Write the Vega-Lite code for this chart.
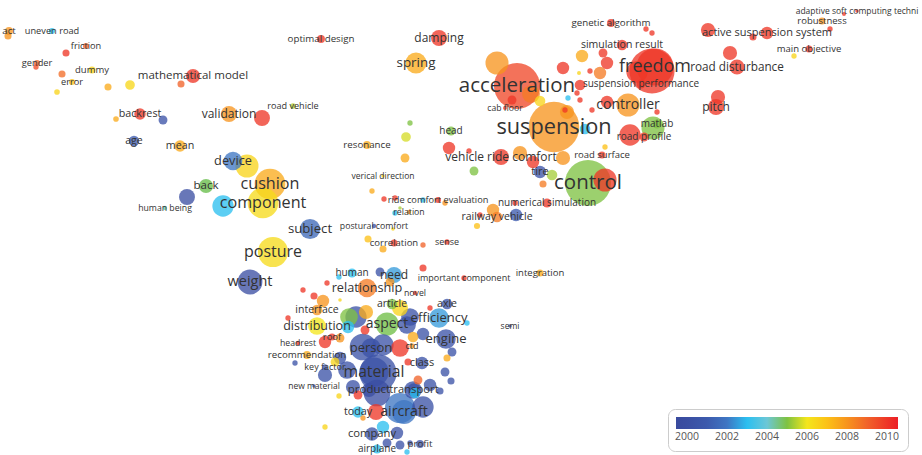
{
"$schema": "https://vega.github.io/schema/vega-lite/v6.json",
"width": 922, "height": 455, "autosize": {"type": "none"}, "padding": 0,
"background": "white",
"config": {"view": {"stroke": null}, "font": "Open Sans"},
"data": {"values": [
{"k":"act","x":9,"y":31,"w":20,"yr":2008},
{"k":"","x":8,"y":36,"w":16,"yr":2008},
{"k":"uneven road","x":52,"y":31,"w":12,"yr":2003},
{"k":"friction","x":86,"y":46,"w":12,"yr":2009},
{"k":"","x":66,"y":53,"w":16,"yr":2010},
{"k":"gender","x":37,"y":63,"w":12,"yr":2009},
{"k":"","x":36,"y":67,"w":9,"yr":2009.5},
{"k":"dummy","x":92,"y":70,"w":16,"yr":2006.5},
{"k":"","x":62,"y":74,"w":16,"yr":2008.8},
{"k":"error","x":72,"y":82,"w":12,"yr":2007},
{"k":"","x":57,"y":92,"w":10,"yr":2006.5},
{"k":"","x":108,"y":87,"w":16,"yr":2007.5},
{"k":"","x":130,"y":85,"w":30,"yr":2006.4},
{"k":"mathematical model","x":193,"y":76,"w":64,"yr":2010},
{"k":"","x":181,"y":84,"w":16,"yr":2009},
{"k":"backrest","x":140,"y":114,"w":42,"yr":2010},
{"k":"","x":116,"y":119,"w":10,"yr":2007.5},
{"k":"","x":163,"y":120,"w":25,"yr":2000.5},
{"k":"age","x":134,"y":141,"w":36,"yr":2001},
{"k":"mean","x":180,"y":146,"w":42,"yr":2007.5},
{"k":"validation","x":229,"y":114,"w":81,"yr":2008},
{"k":"","x":262,"y":118,"w":81,"yr":2010},
{"k":"road vehicle","x":293,"y":106,"w":10,"yr":2005.6},
{"k":"optimal design","x":321,"y":39,"w":20,"yr":2010},
{"k":"damping","x":439,"y":38,"w":81,"yr":2010},
{"k":"spring","x":416,"y":63,"w":140,"yr":2007.5},
{"k":"acceleration","x":517,"y":86,"w":676,"yr":2009.6},
{"k":"","x":497,"y":63,"w":169,"yr":2008},
{"k":"cab floor","x":505,"y":108,"w":5,"yr":2010},
{"k":"","x":512,"y":100,"w":25,"yr":2010},
{"k":"","x":540,"y":101,"w":36,"yr":2006.5},
{"k":"","x":531,"y":94,"w":100,"yr":2008.5},
{"k":"suspension","x":554,"y":127,"w":812,"yr":2008},
{"k":"","x":567,"y":112,"w":64,"yr":2008},
{"k":"","x":563,"y":158,"w":64,"yr":2008},
{"k":"","x":568,"y":98,"w":9,"yr":2003},
{"k":"","x":585,"y":129,"w":36,"yr":2003},
{"k":"","x":580,"y":100,"w":9,"yr":2010},
{"k":"","x":563,"y":68,"w":49,"yr":2010},
{"k":"","x":579,"y":73,"w":5,"yr":2006.5},
{"k":"","x":582,"y":56,"w":49,"yr":2007.5},
{"k":"","x":590,"y":71,"w":9,"yr":2010},
{"k":"","x":600,"y":73,"w":49,"yr":2008.5},
{"k":"","x":607,"y":63,"w":49,"yr":2010},
{"k":"","x":580,"y":85,"w":36,"yr":2010},
{"k":"","x":592,"y":110,"w":9,"yr":2010},
{"k":"","x":607,"y":102,"w":49,"yr":2010},
{"k":"","x":577,"y":93,"w":9,"yr":2010},
{"k":"","x":565,"y":110,"w":9,"yr":2010},
{"k":"simulation result","x":622,"y":45,"w":36,"yr":2010},
{"k":"","x":603,"y":53,"w":25,"yr":2010},
{"k":"genetic algorithm","x":611,"y":23,"w":20,"yr":2010},
{"k":"","x":646,"y":29,"w":9,"yr":2010},
{"k":"","x":652,"y":33,"w":9,"yr":2010},
{"k":"","x":652,"y":71,"w":650,"yr":2010},
{"k":"freedom","x":655,"y":67,"w":440,"yr":2010},
{"k":"","x":637,"y":72,"w":144,"yr":2010},
{"k":"suspension performance","x":641,"y":84,"w":25,"yr":2010},
{"k":"road disturbance","x":737,"y":67,"w":72,"yr":2010},
{"k":"","x":730,"y":53,"w":64,"yr":2010},
{"k":"pitch","x":716,"y":107,"w":81,"yr":2010},
{"k":"","x":718,"y":97,"w":64,"yr":2010},
{"k":"","x":708,"y":30,"w":64,"yr":2010},
{"k":"active suspension system","x":767,"y":33,"w":49,"yr":2010},
{"k":"","x":753,"y":37,"w":16,"yr":2010},
{"k":"robustness","x":822,"y":21,"w":16,"yr":2008},
{"k":"","x":830,"y":29,"w":9,"yr":2010},
{"k":"adaptive soft computing techni","x":857,"y":11,"w":4,"yr":2010},
{"k":"","x":844,"y":14,"w":5,"yr":2010},
{"k":"main objective","x":809,"y":49,"w":16,"yr":2010},
{"k":"","x":794,"y":56,"w":9,"yr":2006.5},
{"k":"controller","x":628,"y":105,"w":169,"yr":2008},
{"k":"","x":657,"y":112,"w":9,"yr":2010},
{"k":"","x":653,"y":128,"w":169,"yr":2005},
{"k":"matlab","x":657,"y":124,"w":25,"yr":2005},
{"k":"","x":630,"y":135,"w":144,"yr":2010},
{"k":"road profile","x":644,"y":137,"w":25,"yr":2010},
{"k":"road surface","x":602,"y":155,"w":16,"yr":2010},
{"k":"","x":605,"y":147,"w":9,"yr":2007},
{"k":"","x":605,"y":180,"w":169,"yr":2010},
{"k":"control","x":588,"y":183,"w":676,"yr":2005},
{"k":"tire","x":540,"y":172,"w":49,"yr":2000.5},
{"k":"","x":552,"y":175,"w":36,"yr":2005.5},
{"k":"","x":543,"y":184,"w":16,"yr":2008.5},
{"k":"","x":533,"y":162,"w":49,"yr":2010},
{"k":"vehicle ride comfort","x":501,"y":157,"w":81,"yr":2010},
{"k":"","x":520,"y":153,"w":64,"yr":2008},
{"k":"numerical simulation","x":547,"y":203,"w":25,"yr":2010},
{"k":"","x":515,"y":203,"w":9,"yr":2010},
{"k":"railway vehicle","x":497,"y":217,"w":36,"yr":2008.5},
{"k":"","x":493,"y":210,"w":49,"yr":2008},
{"k":"","x":516,"y":215,"w":49,"yr":2001},
{"k":"","x":480,"y":215,"w":9,"yr":2010},
{"k":"","x":477,"y":226,"w":12,"yr":2007},
{"k":"sense","x":447,"y":242,"w":9,"yr":2010},
{"k":"integration","x":540,"y":273,"w":16,"yr":2007.5},
{"k":"important component","x":464,"y":278,"w":9,"yr":2010},
{"k":"","x":423,"y":268,"w":16,"yr":2010},
{"k":"head","x":451,"y":131,"w":25,"yr":2005},
{"k":"","x":410,"y":123,"w":9,"yr":2005},
{"k":"","x":406,"y":137,"w":30,"yr":2005.8},
{"k":"resonance","x":367,"y":145,"w":20,"yr":2007.5},
{"k":"","x":405,"y":158,"w":25,"yr":2007.5},
{"k":"","x":449,"y":148,"w":49,"yr":2010},
{"k":"","x":469,"y":151,"w":9,"yr":2010},
{"k":"","x":474,"y":171,"w":25,"yr":2005},
{"k":"verical direction","x":383,"y":176,"w":4,"yr":2006.5},
{"k":"","x":372,"y":191,"w":9,"yr":2007.5},
{"k":"ride comfort evaluation","x":438,"y":200,"w":12,"yr":2010},
{"k":"","x":384,"y":199,"w":9,"yr":2010},
{"k":"","x":395,"y":198,"w":9,"yr":2010},
{"k":"","x":423,"y":200,"w":9,"yr":2003},
{"k":"","x":445,"y":203,"w":9,"yr":2008},
{"k":"relation","x":409,"y":212,"w":6,"yr":2008},
{"k":"","x":395,"y":213,"w":9,"yr":2003},
{"k":"","x":400,"y":208,"w":4,"yr":2005.5},
{"k":"postural comfort","x":374,"y":226,"w":6,"yr":2000.5},
{"k":"","x":393,"y":229,"w":4,"yr":2006.5},
{"k":"correlation","x":394,"y":243,"w":16,"yr":2010},
{"k":"","x":368,"y":239,"w":16,"yr":2007},
{"k":"","x":383,"y":249,"w":16,"yr":2007.5},
{"k":"","x":423,"y":245,"w":9,"yr":2009},
{"k":"semi","x":510,"y":326,"w":4,"yr":2000},
{"k":"device","x":233,"y":161,"w":110,"yr":2002},
{"k":"","x":247,"y":166,"w":169,"yr":2006.5},
{"k":"cushion","x":270,"y":184,"w":300,"yr":2007.5},
{"k":"component","x":263,"y":203,"w":300,"yr":2006.3},
{"k":"","x":223,"y":206,"w":144,"yr":2003},
{"k":"back","x":206,"y":186,"w":64,"yr":2004.7},
{"k":"","x":187,"y":197,"w":81,"yr":2000},
{"k":"human being","x":165,"y":208,"w":6,"yr":2004.2},
{"k":"subject","x":310,"y":229,"w":130,"yr":2001.5},
{"k":"posture","x":273,"y":252,"w":289,"yr":2006.3},
{"k":"weight","x":250,"y":282,"w":196,"yr":2000},
{"k":"human","x":352,"y":273,"w":25,"yr":2003},
{"k":"","x":339,"y":277,"w":9,"yr":2003},
{"k":"","x":380,"y":272,"w":25,"yr":2000.5},
{"k":"","x":390,"y":282,"w":25,"yr":2008},
{"k":"need","x":394,"y":275,"w":81,"yr":2002.5},
{"k":"","x":327,"y":283,"w":9,"yr":2010},
{"k":"","x":303,"y":290,"w":9,"yr":2010},
{"k":"","x":314,"y":296,"w":16,"yr":2010},
{"k":"","x":323,"y":301,"w":49,"yr":2008},
{"k":"","x":340,"y":300,"w":4,"yr":2006.5},
{"k":"relationship","x":367,"y":288,"w":110,"yr":2008.5},
{"k":"novel","x":415,"y":293,"w":6,"yr":2010},
{"k":"article","x":392,"y":304,"w":36,"yr":2005},
{"k":"","x":400,"y":308,"w":81,"yr":2006.5},
{"k":"axle","x":447,"y":304,"w":36,"yr":2000.5},
{"k":"","x":430,"y":308,"w":9,"yr":2010},
{"k":"","x":410,"y":317,"w":100,"yr":2000.5},
{"k":"efficiency","x":439,"y":318,"w":121,"yr":2002.5},
{"k":"","x":467,"y":323,"w":9,"yr":2003},
{"k":"interface","x":317,"y":310,"w":36,"yr":2008},
{"k":"","x":288,"y":318,"w":9,"yr":2010},
{"k":"","x":356,"y":317,"w":144,"yr":2000.5},
{"k":"","x":349,"y":317,"w":100,"yr":2005},
{"k":"distribution","x":317,"y":326,"w":100,"yr":2006},
{"k":"","x":348,"y":327,"w":49,"yr":2003},
{"k":"","x":366,"y":312,"w":64,"yr":2007.5},
{"k":"","x":365,"y":330,"w":25,"yr":2010},
{"k":"aspect","x":387,"y":324,"w":169,"yr":2004.8},
{"k":"","x":407,"y":325,"w":100,"yr":2000.5},
{"k":"","x":413,"y":337,"w":36,"yr":2007.5},
{"k":"","x":423,"y":334,"w":49,"yr":2000.5},
{"k":"engine","x":446,"y":339,"w":121,"yr":2000.5},
{"k":"","x":452,"y":352,"w":25,"yr":2000.5},
{"k":"","x":447,"y":358,"w":16,"yr":2007.5},
{"k":"headrest","x":298,"y":343,"w":6,"yr":2010},
{"k":"","x":325,"y":342,"w":49,"yr":2010},
{"k":"roof","x":332,"y":337,"w":16,"yr":2010},
{"k":"","x":340,"y":338,"w":25,"yr":2008},
{"k":"","x":363,"y":347,"w":225,"yr":2000.5},
{"k":"person","x":371,"y":348,"w":121,"yr":2000.5},
{"k":"","x":383,"y":345,"w":144,"yr":2000.5},
{"k":"","x":400,"y":348,"w":100,"yr":2010},
{"k":"ctd","x":412,"y":346,"w":9,"yr":2008},
{"k":"","x":340,"y":358,"w":49,"yr":2000.5},
{"k":"recommendation","x":307,"y":355,"w":20,"yr":2007.5},
{"k":"key factor","x":325,"y":367,"w":9,"yr":2000.5},
{"k":"","x":335,"y":362,"w":25,"yr":2006.5},
{"k":"","x":295,"y":363,"w":9,"yr":2000.5},
{"k":"","x":325,"y":375,"w":64,"yr":2000.5},
{"k":"class","x":422,"y":363,"w":49,"yr":2000.5},
{"k":"","x":408,"y":362,"w":16,"yr":2010},
{"k":"","x":378,"y":373,"w":441,"yr":2000.5},
{"k":"material","x":374,"y":372,"w":272,"yr":2000.5},
{"k":"","x":347,"y":370,"w":100,"yr":2000.5},
{"k":"","x":418,"y":380,"w":25,"yr":2009},
{"k":"","x":430,"y":385,"w":49,"yr":2000.5},
{"k":"","x":451,"y":381,"w":16,"yr":2000.5},
{"k":"","x":445,"y":372,"w":25,"yr":2000.5},
{"k":"new material","x":314,"y":386,"w":4,"yr":2000.5},
{"k":"","x":339,"y":396,"w":9,"yr":2006.5},
{"k":"","x":377,"y":393,"w":225,"yr":2000},
{"k":"product","x":369,"y":390,"w":64,"yr":2000},
{"k":"","x":413,"y":390,"w":100,"yr":2000.5},
{"k":"","x":415,"y":393,"w":36,"yr":2003},
{"k":"transport","x":414,"y":390,"w":56,"yr":2000.5},
{"k":"","x":440,"y":391,"w":16,"yr":2000.5},
{"k":"","x":358,"y":395,"w":25,"yr":2010},
{"k":"","x":353,"y":387,"w":64,"yr":2000.5},
{"k":"","x":400,"y":408,"w":289,"yr":2002},
{"k":"aircraft","x":404,"y":412,"w":182,"yr":2002},
{"k":"","x":423,"y":407,"w":144,"yr":2000.5},
{"k":"today","x":358,"y":412,"w":42,"yr":2003},
{"k":"","x":376,"y":412,"w":81,"yr":2010},
{"k":"","x":363,"y":418,"w":9,"yr":2008},
{"k":"","x":325,"y":427,"w":9,"yr":2006.5},
{"k":"","x":383,"y":427,"w":49,"yr":2003},
{"k":"","x":397,"y":433,"w":49,"yr":2000.5},
{"k":"company","x":372,"y":434,"w":56,"yr":2000.5},
{"k":"","x":387,"y":443,"w":25,"yr":2000.5},
{"k":"","x":400,"y":445,"w":25,"yr":2000.5},
{"k":"","x":407,"y":452,"w":9,"yr":2003},
{"k":"airplane","x":377,"y":449,"w":25,"yr":2003},
{"k":"profit","x":420,"y":444,"w":20,"yr":2000.5},
{"k":"","x":410,"y":443,"w":9,"yr":2000.5}
]},
"encoding": {
  "x": {"field": "x", "type": "quantitative", "scale": {"domain": [0, 922], "nice": false, "zero": false}, "axis": null},
  "y": {"field": "y", "type": "quantitative", "scale": {"domain": [0, 455], "reverse": true, "nice": false, "zero": false}, "axis": null}
},
"layer": [
  {
    "mark": {"type": "circle", "fillOpacity": 0.77, "strokeWidth": 0},
    "encoding": {
      "size": {"field": "w", "type": "quantitative", "scale": {"domain": [0, 900], "range": [0, 2827]}, "legend": null},
      "color": {"field": "yr", "type": "quantitative",
        "scale": {"domain": [1999.45, 2000.8, 2002, 2003, 2004, 2004.7, 2005.5, 2006, 2007, 2008, 2009, 2010.55],
                  "range": ["#394a9e", "#3b54a8", "#3e76c3", "#2bbff0", "#6cc7d6", "#66bc47", "#a6cd3a", "#f4e61c", "#fcc117", "#f7941e", "#f1632a", "#ec1e26"],
                  "interpolate": "rgb"},
        "legend": {"orient": "none", "legendX": 668, "legendY": 409, "direction": "horizontal", "title": null,
          "gradientLength": 222, "gradientThickness": 12, "gradientStrokeWidth": 0,
          "values": [2000, 2002, 2004, 2006, 2008, 2010], "format": "d",
          "labelFontSize": 10.5, "labelColor": "#555555", "labelFont": "Open Sans", "labelOffset": 3,
          "padding": 8, "strokeColor": "#cccccc", "fillColor": "white", "cornerRadius": 7,
          "encode": {"gradient": {"update": {"opacity": {"value": 1}, "fillOpacity": {"value": 1}}}}}},
      "order": {"field": "w", "sort": "descending"}
    }
  },
  {
    "transform": [{"filter": "datum.k != ''"}],
    "mark": {"type": "text", "color": "#333333", "font": "Open Sans", "align": "center", "baseline": "middle"},
    "encoding": {
      "text": {"field": "k"},
      "size": {"field": "w", "type": "quantitative", "scale": {"type": "sqrt", "domain": [0, 900], "range": [7.5, 22.5]}, "legend": null}
    }
  }
],
"resolve": {"scale": {"size": "independent"}, "legend": {"size": "independent"}}
}
